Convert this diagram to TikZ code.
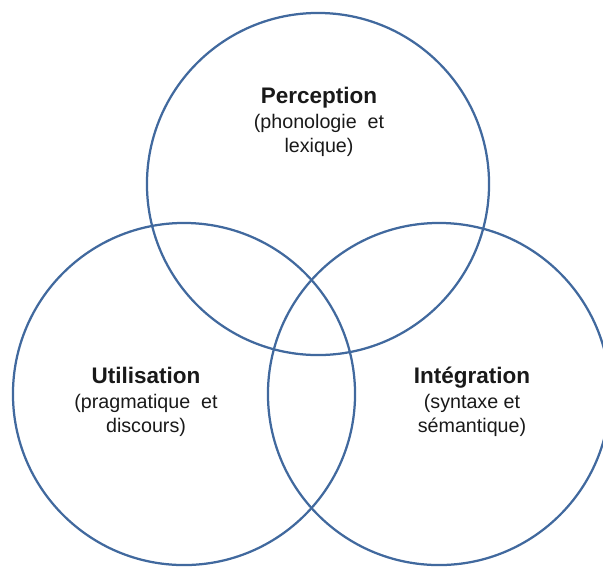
\documentclass[tikz,border=0pt]{standalone}
\usepackage{fontspec}
\setmainfont{Liberation Sans}
\usepackage{tikz}
\usetikzlibrary{positioning}

\definecolor{ringblue}{RGB}{65,105,158}
\definecolor{labelgray}{RGB}{25,25,25}

\begin{document}
\begin{tikzpicture}[
x=0.025cm, y=-0.025cm,
ring/.style={circle,
  draw=ringblue,
  line width=1.6pt,
  minimum size=8.55cm,
  inner sep=0pt
},
mylabel/.style={
  align=center,
  text=labelgray,
  font=\fontsize{14}{17.5}\selectfont
},
mytitle/.style={font=\bfseries\fontsize{16}{19}\selectfont}
]
\useasboundingbox (0,0) rectangle (603,568);

\node[ring] (perc) at (318,184) {};
\node[ring] (util) at (184,394) {};
\node[ring] (integ) at (439,394) {};

\node[mylabel] (perctxt) at (319,122)
    {{\bfseries\fontsize{16}{19}\selectfont Perception}\\(phonologie\ \ et\\lexique)};
\node[mylabel] (utiltxt) at (146,402)
    {{\bfseries\fontsize{16}{19}\selectfont Utilisation}\\(pragmatique\ \ et\\discours)};
\node[mylabel] (integtxt) at (472,402)
    {{\bfseries\fontsize{16}{19}\selectfont Intégration}\\(syntaxe et\\sémantique)};
\end{tikzpicture}
\end{document}
